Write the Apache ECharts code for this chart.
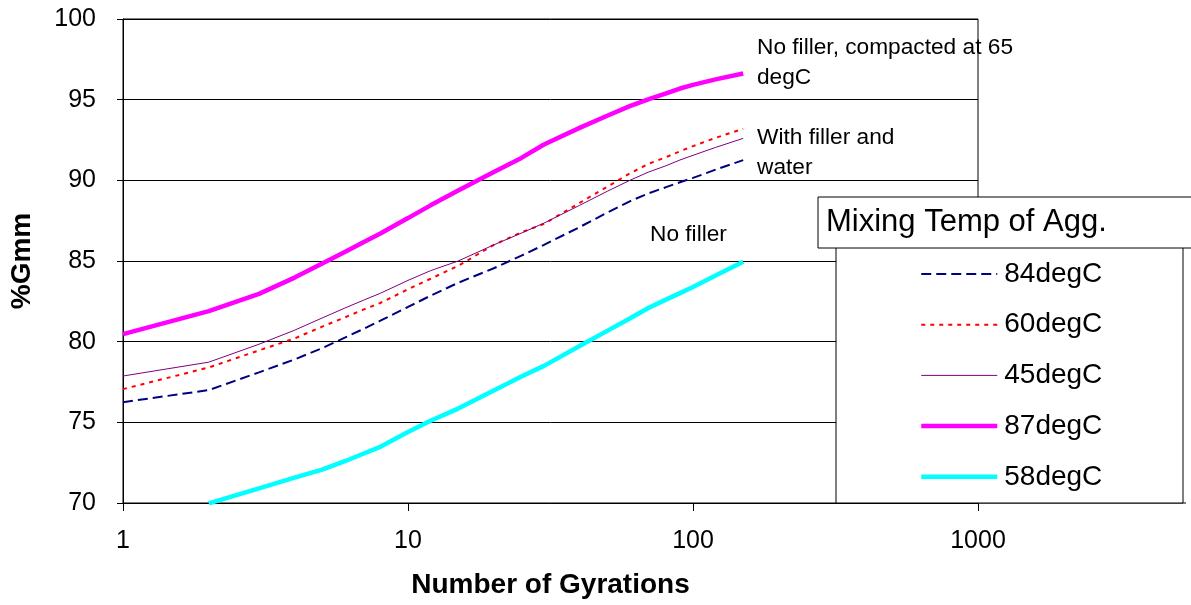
<!DOCTYPE html>
<html><head><meta charset="utf-8">
<script src="https://cdn.jsdelivr.net/npm/echarts@6/dist/echarts.min.js"></script>
<style>html,body{margin:0;padding:0;background:#fff}#c{width:1191px;height:605px}</style>
</head><body><div id="c"></div>
<script>
// Number of gyrations (x, log scale)
const gyrations = [1,2,3,4,5,6,7,8,10,12,15,20,25,30,40,50,60,70,80,90,100,120,150];
// %Gmm values per mixing temperature
const mix84 = [76.25,77.0,78.1,78.9,79.6,80.25,80.8,81.3,82.15,82.85,83.65,84.55,85.33,86.0,87.1,88.0,88.7,89.2,89.56,89.88,90.15,90.66,91.25];
const mix60 = [77.06,78.4,79.46,80.2,80.93,81.5,82.0,82.4,83.25,83.9,84.7,86.0,86.78,87.3,88.6,89.6,90.43,91.03,91.42,91.8,92.12,92.63,93.2];
const mix45 = [77.87,78.73,79.84,80.71,81.47,82.08,82.58,83.0,83.8,84.4,85.0,86.0,86.73,87.35,88.45,89.32,90.0,90.52,90.89,91.26,91.55,92.04,92.6];
const mix87 = [80.47,81.89,82.96,83.97,84.85,85.56,86.18,86.7,87.66,88.45,89.37,90.52,91.39,92.22,93.25,94.0,94.6,95.04,95.37,95.69,95.92,96.26,96.62];
const mix58 = [null,69.98,70.91,71.57,72.07,72.59,73.07,73.48,74.4,75.1,75.85,76.98,77.84,78.5,79.73,80.67,81.44,82.1,82.59,83.01,83.39,84.1,84.95];
const seriesNames = ['84degC','60degC','45degC','87degC','58degC'];
const yTicks = {min:70, max:100, step:5};
const xTicks = {min:1, max:1000};
const legendTitle = 'Mixing Temp of Agg.';
const notes = ['No filler, compacted at 65\ndegC', 'With filler and\nwater', 'No filler'];

const FF = "'Liberation Sans', Arial, sans-serif";
const pairs = arr => gyrations.map((g,i)=>[g, arr[i]]);

const chart = echarts.init(document.getElementById('c'), null, {renderer:'canvas'});
const styles = [
  {color:'#000080', width:2, type:[10,5]},
  {color:'#FF0000', width:2, type:[4,5]},
  {color:'#800080', width:1, type:'solid'},
  {color:'#FF00FF', width:4.5, type:'solid'},
  {color:'#00FFFF', width:4.5, type:'solid'}
];
const dataSets = [mix84, mix60, mix45, mix87, mix58];

chart.setOption({
  animation:false,
  backgroundColor:'#fff',
  grid:{left:123, right:213, top:19, bottom:102, show:true, borderColor:'#000', borderWidth:1, backgroundColor:'transparent'},
  xAxis:{
    type:'log', logBase:10, min:xTicks.min, max:xTicks.max,
    name:'Number of Gyrations', nameLocation:'middle', nameGap:68,
    nameTextStyle:{fontFamily:FF, fontSize:28, fontWeight:'bold', color:'#000'},
    axisLine:{show:true, onZero:false, lineStyle:{color:'#000', width:1}},
    axisTick:{show:true, length:8, lineStyle:{color:'#000'}},
    minorTick:{show:false},
    axisLabel:{fontFamily:FF, fontSize:25, color:'#000', margin:26, formatter: v => String(v)},
    splitLine:{show:false}
  },
  yAxis:{
    type:'value', min:yTicks.min, max:yTicks.max, interval:yTicks.step,
    name:'%Gmm', nameLocation:'middle', nameGap:87,
    nameTextStyle:{fontFamily:FF, fontSize:28, fontWeight:'bold', color:'#000'},
    axisLine:{show:true, lineStyle:{color:'#000', width:1}},
    axisTick:{show:true, length:6, lineStyle:{color:'#000'}},
    axisLabel:{fontFamily:FF, fontSize:25, color:'#000', margin:27},
    splitLine:{show:true, lineStyle:{color:'#000', width:1}}
  },
  legend:{
    show:true, orient:'vertical', left:919, top:260, z:20, padding:0,
    itemWidth:76, itemHeight:14, itemGap:22.7,
    itemStyle:{opacity:0, color:'transparent', borderWidth:0},
    data:seriesNames.map((n,i)=>({name:n, lineStyle:{width:styles[i].width, type:styles[i].type, color:styles[i].color}})),
    textStyle:{fontFamily:FF, fontSize:28, color:'#000', lineHeight:28, padding:[0,0,0,2]}
  },
  series: seriesNames.map((n,i)=>({
    name:n, type:'line', data:pairs(dataSets[i]),
    showSymbol:false, symbol:'none', smooth:false, connectNulls:false,
    lineStyle:{color:styles[i].color, width:styles[i].width, type:styles[i].type},
    itemStyle:{color:styles[i].color},
    z:3
  })),
  graphic:[
    {type:'rect', z:10, shape:{x:836, y:247, width:347, height:256}, style:{fill:'#fff', stroke:'#000', lineWidth:1}},
    {type:'rect', z:11, shape:{x:818, y:197, width:380, height:51}, style:{fill:'#fff', stroke:'#000', lineWidth:1}},
    {type:'text', z:12, x:826, y:222, style:{text:legendTitle, fontFamily:FF, fontSize:31, fill:'#000', verticalAlign:'middle'}},
    {type:'line', z:2, shape:{x1:978, y1:503, x2:1186, y2:503}, style:{stroke:'#000', lineWidth:1}},
    {type:'text', z:12, x:757, y:33, style:{text:notes[0], fontFamily:FF, fontSize:22.7, lineHeight:30, fill:'#000', verticalAlign:'top'}},
    {type:'text', z:12, x:757, y:123, style:{text:notes[1], fontFamily:FF, fontSize:22.7, lineHeight:30, fill:'#000', verticalAlign:'top'}},
    {type:'text', z:12, x:650, y:220, style:{text:notes[2], fontFamily:FF, fontSize:22.7, lineHeight:30, fill:'#000', verticalAlign:'top'}}
  ]
});
</script>
</body></html>
